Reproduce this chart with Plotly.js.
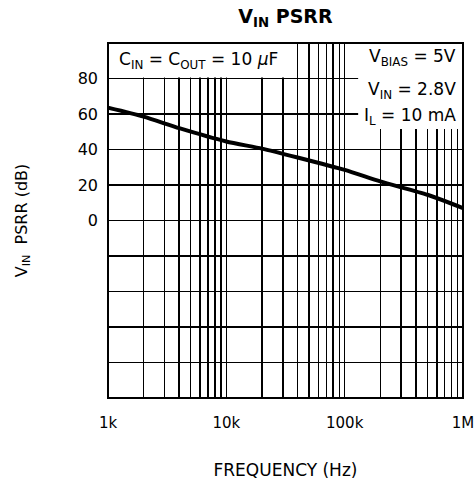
<!DOCTYPE html>
<html>
<head>
<meta charset="utf-8">
<script src="https://cdn.plot.ly/plotly-3.0.1.min.js"></script>
<style>html,body{margin:0;padding:0;background:#fff;}#chart{width:476px;height:484px;}</style>
</head>
<body>
<div id="chart"></div>
<script>
// Data
var frequencyHz = [1000, 2000, 4000, 10000, 20000, 40000, 100000, 200000, 500000, 1000000];
var psrrDb = [63.5, 58.5, 52, 44.5, 40.5, 35.5, 28.5, 22, 14.5, 7];

var xTickVals = [1000, 10000, 100000, 1000000];
var xTickText = ['1k', '10k', '100k', '1M'];
var yTickVals = [0, 20, 40, 60, 80];
var yTickText = ['0', '20', '40', '60', '80'];

var font = 'DejaVu Sans, Liberation Sans, sans-serif';

var trace = {
  x: frequencyHz,
  y: psrrDb,
  type: 'scatter',
  mode: 'lines',
  line: {color: '#000', width: 4, shape: 'spline', smoothing: 0.6},
  hoverinfo: 'skip'
};

var layout = {
  width: 476,
  height: 484,
  margin: {l: 108, r: 13, t: 43, b: 86},
  paper_bgcolor: '#fff',
  plot_bgcolor: '#fff',
  showlegend: false,
  title: {
    text: '<b>V<sub>IN</sub> PSRR</b>',
    font: {family: 'DejaVu Sans, Liberation Sans, Arial, sans-serif', size: 19, color: '#000'},
    x: 0.5, xanchor: 'center', xref: 'paper', y: 0.966, yanchor: 'middle'
  },
  xaxis: {
    type: 'log',
    range: [3, 6],
    tickvals: xTickVals,
    ticktext: xTickText,
    ticks: '',
    showgrid: true,
    gridcolor: '#000',
    gridwidth: 1.5,
    minor: {dtick: 'D1', showgrid: true, gridcolor: '#000', gridwidth: 1.5, ticks: ''},
    showline: false,
    zeroline: false,
    tickfont: {family: font, size: 15, color: '#000'},
    ticklabelstandoff: 14,
    automargin: false,
    title: {text: 'FREQUENCY (Hz)', font: {family: font, size: 17, color: '#000'}, standoff: 33}
  },
  yaxis: {
    range: [-100, 100],
    tickvals: yTickVals,
    ticktext: yTickText,
    ticks: '',
    showgrid: true,
    gridcolor: '#000',
    gridwidth: 1.5,
    minor: {tick0: 0, dtick: 20, showgrid: true, gridcolor: '#000', gridwidth: 1.5, ticks: ''},
    showline: false,
    zeroline: false,
    tickfont: {family: font, size: 16, color: '#000'},
    ticklabelstandoff: 9,
    automargin: false,
    title: {text: 'V<sub>IN</sub>\u00a0 PSRR (dB)', font: {family: font, size: 16, color: '#000'}, standoff: 46}
  },
  shapes: [
    {type: 'rect', xref: 'paper', yref: 'y', x0: 0, x1: 0.532, y0: 80.6, y1: 100, fillcolor: '#fff', line: {width: 0}, layer: 'above'},
    {type: 'rect', xref: 'x', yref: 'y', x0: 130000, x1: 1000000, y0: 51.5, y1: 100, fillcolor: '#fff', line: {width: 0}, layer: 'above'},
    {type: 'rect', xref: 'paper', yref: 'paper', x0: 0, x1: 1, y0: 0, y1: 1, fillcolor: 'rgba(0,0,0,0)', line: {color: '#000', width: 2}, layer: 'above'}
  ],
  annotations: [
    {xref: 'paper', yref: 'y', x: 0.025, y: 90, xanchor: 'left', yanchor: 'middle', showarrow: false,
     text: 'C<sub>IN</sub> = C<sub>OUT</sub> = 10 <i>μ</i>F', font: {family: font, size: 17, color: '#000'}},
    {xref: 'paper', yref: 'y', x: 0.985, y: 92, xanchor: 'right', yanchor: 'middle', showarrow: false,
     text: 'V<sub>BIAS</sub> = 5V', font: {family: font, size: 17, color: '#000'}},
    {xref: 'paper', yref: 'y', x: 0.985, y: 73.5, xanchor: 'right', yanchor: 'middle', showarrow: false,
     text: 'V<sub>IN</sub> = 2.8V', font: {family: font, size: 17, color: '#000'}},
    {xref: 'paper', yref: 'y', x: 0.985, y: 58.5, xanchor: 'right', yanchor: 'middle', showarrow: false,
     text: 'I<sub>L</sub> = 10 mA', font: {family: font, size: 17, color: '#000'}}
  ]
};

Plotly.newPlot('chart', [trace], layout, {staticPlot: true, displayModeBar: false});
</script>
</body>
</html>
